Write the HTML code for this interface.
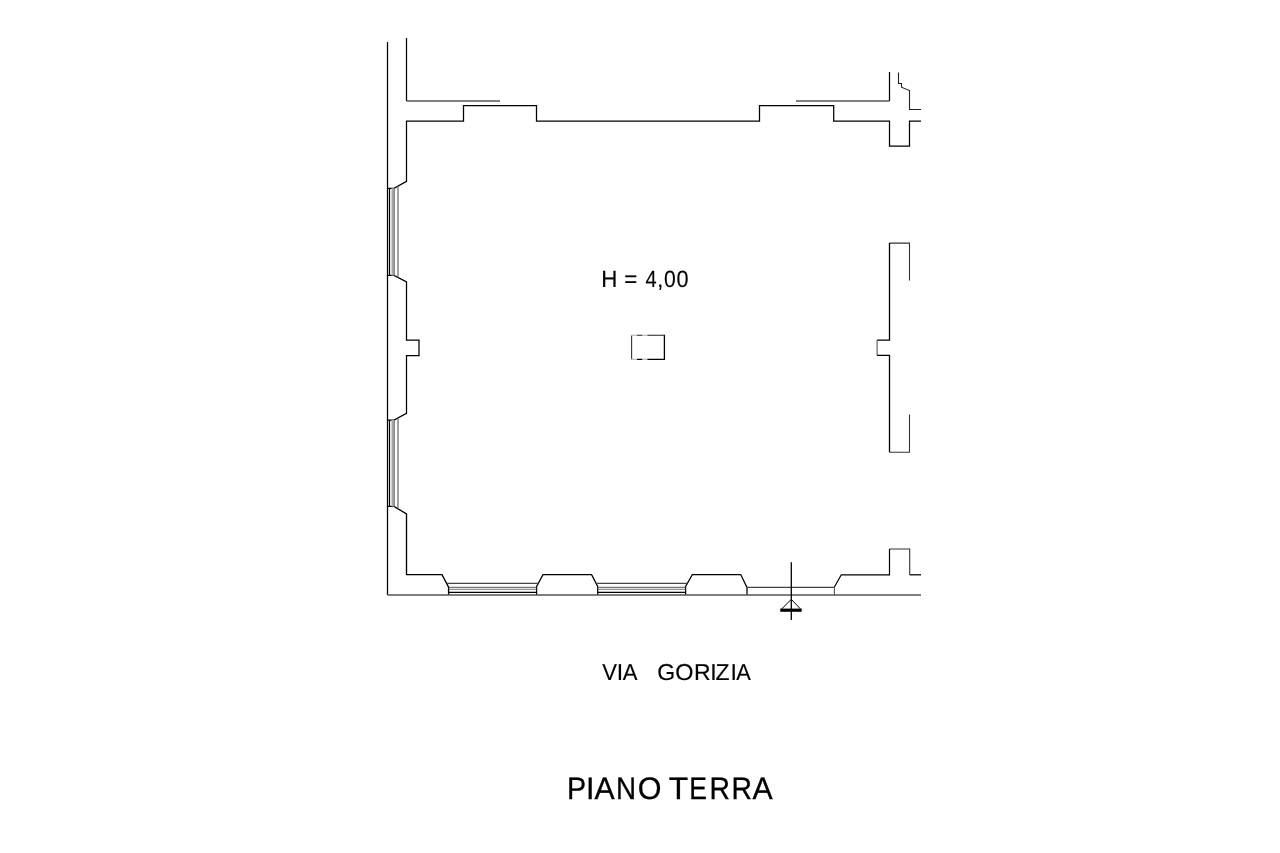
<!DOCTYPE html>
<html>
<head>
<meta charset="utf-8">
<style>
html,body{margin:0;padding:0;background:#fff;}
body{width:1280px;height:853px;overflow:hidden;position:relative;}
svg{position:absolute;left:0;top:0;}
text{font-family:"Liberation Sans", sans-serif;fill:#000;stroke:#000;stroke-width:0.3px;}
</style>
</head>
<body>
<svg width="1280" height="853" viewBox="0 0 1280 853">
<g fill="none" stroke="#000" stroke-width="1.25" stroke-linejoin="miter" stroke-linecap="butt">
  <!-- outer left line -->
  <path d="M387.5,42 V595"/>
  <!-- inner top-left vertical -->
  <path d="M406.5,38 V101"/>
  <!-- top-right stub -->
  <path d="M889.5,72 V101"/>
  <path d="M898.5,72.5 V83.5 H901.5 V87.2 L909.5,90.5 V109.5 H921" stroke="#222" stroke-width="1.1"/>
  <!-- top wall -->
  <path d="M387.5,188.3 H394 L406.5,181.3 V121.2 H463.5 V105.7 H536.5 V121.2 H759.5 V105.7 H833.7 V121.2 H889.5 V146.2 H909.5 V121.2 H921"/>
  <!-- left wall middle -->
  <path d="M387.5,275.4 H394 L406.5,282 V340 H419 V355.5 H406.5 V413.4 L394,420.1 H387.5"/>
  <!-- bottom-left -->
  <path d="M387.5,506.4 H394 L406.5,514 V574.6 H442 L448.6,587.2 V595" stroke-width="1.35"/>
  <!-- pilasters -->
  <path d="M536.6,595 V586.5 L543,574.6 H591.6 L597.7,586.5 V595"/>
  <path d="M685.6,595 V586.5 L692.3,574.6 H740.7 L747,587.5 V595"/>
  <path d="M834.4,595 V587" stroke="#444" stroke-width="1"/>
  <path d="M834.4,587 L841.3,574.8 H889.5 V549" stroke-width="1.2"/>
  <path d="M889.5,549 H909.7 V574.8" stroke="#333" stroke-width="1.1"/>
  <path d="M909.7,574.8 H921"/>
  <!-- window 1 & 2 inner black line -->
  <path d="M389.5,188.3 V275.4 M389.5,420.1 V506.4" stroke-width="1.2"/>
  <!-- window bottom black line -->
  <path d="M449,592.4 H536.6 M597.7,592.4 H685.6" stroke-width="1.2"/>
  <!-- right wall -->
  <path d="M909.5,280.5 V243.1 H889.5" stroke="#333" stroke-width="1.1"/>
  <path d="M889.5,243.1 V340.1 H877.1" stroke-width="1.3"/>
  <path d="M877.1,340.1 V355.4" stroke="#555" stroke-width="1.1"/>
  <path d="M877.1,355.4 H889.5 V452.3" stroke-width="1.3"/>
  <path d="M889.5,452.3 H909.5 V414.4" stroke="#333" stroke-width="1.1"/>
</g>
<g fill="none" stroke="#000" stroke-width="1">
  <!-- grey lines -->
  <path d="M406.5,101 H500" stroke="#555" stroke-width="1.3"/>
  <path d="M796,101 H889.5" stroke="#555" stroke-width="1.3"/>
  <path d="M387.5,595 H921" stroke="#555" stroke-width="1.5"/>
  <!-- left windows grey lines -->
  <path d="M392.9,188.3 V275.4 M392.9,420.1 V506.4" stroke="#aaa" stroke-width="2.8"/>
  <path d="M394.3,188.3 V275.4 M394.3,420.1 V506.4" stroke="#666" stroke-width="0.9"/>
  <path d="M398,186.1 V277.5 M398,418 V508.5" stroke="#666" stroke-width="1.2"/>
  <!-- bottom windows grey lines -->
  <path d="M447,583.4 H538.3 M596,583.4 H687.3" stroke="#444" stroke-width="1.1"/>
  <path d="M449,587.3 H536.6 M597.7,587.3 H685.6" stroke="#555" stroke-width="1"/>
  <path d="M449,589.3 H536.6 M597.7,589.3 H685.6" stroke="#666" stroke-width="0.9"/>
  <!-- door line -->
  <path d="M747,587.3 H834.4" stroke="#444" stroke-width="1.2"/>
  <!-- rectangle -->
  <path d="M631.6,335.3 V359.3" stroke="#333" stroke-width="1.1"/>
  <path d="M664.4,334.8 V359.8" stroke="#000" stroke-width="1.3"/>
  <path d="M631,335.3 H637 M631,359.3 H637 M642.2,335.3 H647.4 M642.2,359.3 H647.4" stroke="#aaa" stroke-width="1.1"/>
  <path d="M637,335.3 H642.2 M647.4,335.3 H665" stroke="#222" stroke-width="1.1"/>
  <path d="M637,359.3 H642.2 M647.4,359.3 H665" stroke="#000" stroke-width="1.2"/>
</g>
<g fill="none" stroke="#000">
  <!-- cross symbol -->
  <path d="M791.3,562.2 V619.9" stroke-width="1.3"/>
  <path d="M780.5,610.2 L791.3,599.3 L801.6,610.2" stroke-width="1"/>
  <path d="M780.3,610.2 H801.6" stroke-width="3.2"/>
</g>
<g style="will-change:transform" text-rendering="geometricPrecision">
<text transform="translate(609.5,287) scale(0.97,1.03)" x="-8.5" y="0" font-size="23" style="stroke-width:0.15px">H</text><text transform="translate(630.65,287) scale(0.97,1.03)" x="-6.5" y="0" font-size="23" style="stroke-width:0.15px">=</text><text transform="translate(650.8,287) scale(0.87,1.03)" x="-6.0" y="0" font-size="23" style="stroke-width:0.15px">4</text><text transform="translate(660.1,287) scale(1.0,1.03)" x="-3.0" y="0" font-size="23" style="stroke-width:0.15px">,</text><text transform="translate(670.1,287) scale(0.92,1.03)" x="-6.5" y="0" font-size="23" style="stroke-width:0.15px">0</text><text transform="translate(682.5,287) scale(0.94,1.03)" x="-6.5" y="0" font-size="23" style="stroke-width:0.15px">0</text>
<text class="s" transform="translate(609.4,680) scale(0.96,1)" x="-7.5" y="0" font-size="23" style="stroke-width:0.15px">V</text>
<text class="s" transform="translate(619.8,680) scale(1.0,1)" x="-3.0" y="0" font-size="23" style="stroke-width:0.15px">I</text>
<text class="s" transform="translate(629.9,680) scale(0.96,1)" x="-7.5" y="0" font-size="23" style="stroke-width:0.15px">A</text>
<text class="s" transform="translate(665.75,680) scale(1.0,1)" x="-8.5" y="0" font-size="23" style="stroke-width:0.15px">G</text>
<text class="s" transform="translate(684.45,680) scale(1.02,1)" x="-9.0" y="0" font-size="23" style="stroke-width:0.15px">O</text>
<text class="s" transform="translate(702.4,680) scale(1.0,1)" x="-8.5" y="0" font-size="23" style="stroke-width:0.15px">R</text>
<text class="s" transform="translate(713.3,680) scale(1.0,1)" x="-3.0" y="0" font-size="23" style="stroke-width:0.15px">I</text>
<text class="s" transform="translate(722.55,680) scale(1.0,1)" x="-7.0" y="0" font-size="23" style="stroke-width:0.15px">Z</text>
<text class="s" transform="translate(733.45,680) scale(1.0,1)" x="-3.0" y="0" font-size="23" style="stroke-width:0.15px">I</text>
<text class="s" transform="translate(743.25,680) scale(0.95,1)" x="-7.5" y="0" font-size="23" style="stroke-width:0.15px">A</text>
<text transform="translate(576.85,799) scale(0.94,1.02)" x="-10.5" y="0" font-size="30.5">P</text>
<text transform="translate(590.6,799) scale(1.0,1.02)" x="-4.5" y="0" font-size="30.5">I</text>
<text transform="translate(604.5,799) scale(0.99,1.02)" x="-10" y="0" font-size="30.5">A</text>
<text transform="translate(626,799) scale(0.91,1.02)" x="-11" y="0" font-size="30.5">N</text>
<text transform="translate(649.2,799) scale(1.0,1.02)" x="-11.5" y="0" font-size="30.5">O</text>
<text transform="translate(678.75,799) scale(1.04,1.02)" x="-9.5" y="0" font-size="30.5">T</text>
<text transform="translate(698.5,799) scale(0.87,1.02)" x="-10.5" y="0" font-size="30.5">E</text>
<text transform="translate(719.75,799) scale(0.93,1.02)" x="-11" y="0" font-size="30.5">R</text>
<text transform="translate(741.7,799) scale(0.93,1.02)" x="-11" y="0" font-size="30.5">R</text>
<text transform="translate(762.5,799) scale(0.99,1.02)" x="-10" y="0" font-size="30.5">A</text>
</g>
</svg>
</body>
</html>
